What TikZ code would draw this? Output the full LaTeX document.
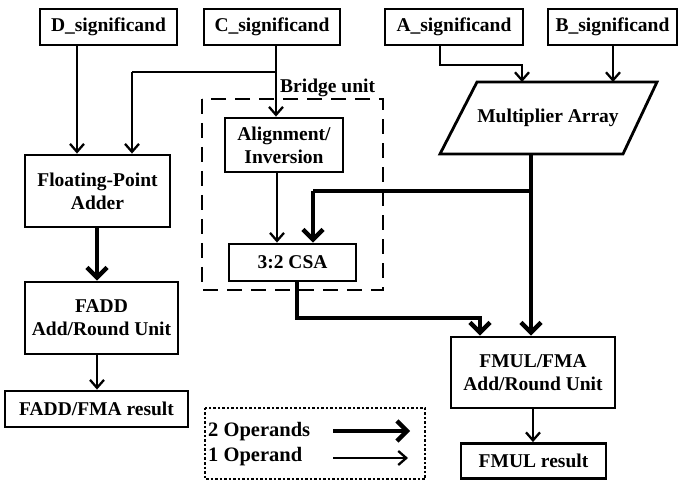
\documentclass[tikz,border=0pt]{standalone}
\usepackage{fontspec}
\setmainfont{Liberation Serif}
\usetikzlibrary{arrows.meta}
\begin{document}
\begin{tikzpicture}[x=1pt,y=-1pt,
  every node/.style={font=\fontsize{19.5}{23}\selectfont\bfseries},
  blk/.style={draw,line width=2.8pt,align=center,inner sep=0pt},
  one/.style={line width=2.3pt,-{Straight Barb[length=8pt,width=14pt]}},
  two/.style={line width=4.4pt,-{Straight Barb[length=10pt,width=20pt]}},
  plain/.style={line width=2.3pt},
  heavy/.style={line width=4.4pt}]
\useasboundingbox (0,0) rectangle (681,481);

% input operands
\node[blk,minimum width=137pt,minimum height=36pt] (D) at (108.5,27) {D\_significand};
\node[blk,minimum width=136pt,minimum height=36pt] (C) at (272,27) {C\_significand};
\node[blk,minimum width=138pt,minimum height=36pt] (A) at (454,27) {A\_significand};
\node[blk,minimum width=129pt,minimum height=36pt] (B) at (612.5,27) {B\_significand};

% multiplier array (parallelogram)
\draw[line width=2.8pt,line join=miter] (477,82) -- (657,82) -- (623,154) -- (440,154) -- cycle;
\node (mul) at (548,118) {Multiplier Array};
\coordinate (mulA) at (522,82);
\coordinate (mulB) at (613,82);
\coordinate (mulout) at (531,154);

% adder path
\node[blk,minimum width=145pt,minimum height=72pt] (fpa) at (97.5,191) {Floating-Point\\Adder};
\node[blk,minimum width=153pt,minimum height=72pt] (fadd) at (101.5,318) {FADD\\Add/Round Unit};
\node[blk,minimum width=183pt,minimum height=36pt] (faddres) at (96.5,409) {FADD/FMA result};

% bridge unit
\draw[line width=2.8pt,dash pattern=on 15pt off 9pt] (202,99) rectangle (383,290);
\node[anchor=base west,inner sep=0pt] (bridge) at (280,93) {Bridge unit};
\node[blk,minimum width=118pt,minimum height=54pt] (al) at (284,145) {Alignment/\\Inversion};
\node[blk,minimum width=127pt,minimum height=37pt] (csa) at (292.5,262.5) {3:2 CSA};

% multiplier path
\node[blk,minimum width=164pt,minimum height=71pt] (fmul) at (533,372.5) {FMUL/FMA\\Add/Round Unit};
\node[blk,minimum width=145pt,minimum height=35pt] (fmulres) at (533.5,461) {FMUL result};

% legend
\draw[line width=2.2pt,dash pattern=on 2.5pt off 2pt] (205,408) rectangle (425,479);
\node[anchor=west,inner sep=0pt,font=\fontsize{20.5}{24}\selectfont\bfseries] (l2) at (208,432) {2 Operands};
\node[anchor=west,inner sep=0pt,font=\fontsize{20.5}{24}\selectfont\bfseries] (l1) at (208,457) {1 Operand};
\coordinate (l2a) at (333,431);
\coordinate (l2b) at (410,431);
\coordinate (l1a) at (333,458);
\coordinate (l1b) at (408,458);
\draw[two] (l2a) -- (l2b);
\draw[one] (l1a) -- (l1b);

% connectors
\draw[one] (77,0 |- D.south) -- (77,0 |- fpa.north);
\draw[one] (276,0 |- C.south) -- (276,0 |- al.north);
\draw[plain] (276,72) -- (132,72);
\draw[one] (132,72) -- (132,0 |- fpa.north);
\draw[one] (440,0 |- A.south) -- (440,65) -- (522,65) -- (mulA);
\draw[one] (613,0 |- B.south) -- (mulB);

\draw[two] (mulout) -- (531,0 |- fmul.north);
\draw[heavy] (531,191) -- (313,191);
\draw[two] (313,191) -- (313,0 |- csa.north);
\draw[one] (277,0 |- al.south) -- (277,0 |- csa.north);
\draw[two] (297,0 |- csa.south) -- (297,318) -- (480,318) -- (480,0 |- fmul.north);

\draw[two] (97,0 |- fpa.south) -- (97,0 |- fadd.north);
\draw[one] (97,0 |- fadd.south) -- (97,0 |- faddres.north);
\draw[one] (533,0 |- fmul.south) -- (533,0 |- fmulres.north);
\end{tikzpicture}
\end{document}
